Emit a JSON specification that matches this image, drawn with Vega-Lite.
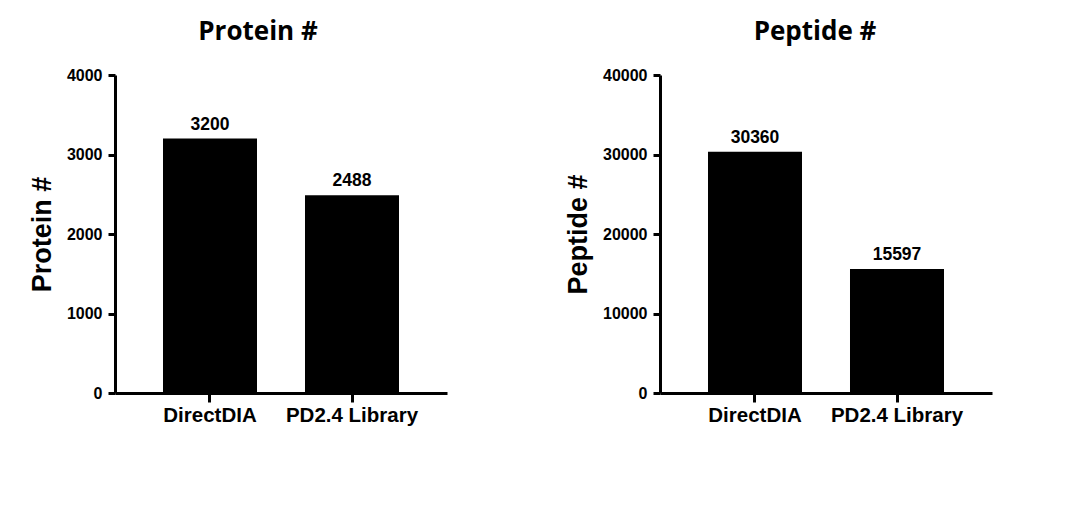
{
  "$schema": "https://vega.github.io/schema/vega-lite/v6.json",
  "padding": {"left": 28, "top": 19, "right": 5, "bottom": 5},
  "background": "white",
  "spacing": 117,
  "config": {
    "view": {"stroke": null},
    "axis": {
      "grid": false,
      "domainColor": "black",
      "domainWidth": 3,
      "tickColor": "black",
      "tickWidth": 3,
      "tickSize": 7,
      "labelFont": "Liberation Sans",
      "labelFontWeight": "bold",
      "labelColor": "black",
      "titleFont": "Liberation Sans",
      "titleFontWeight": "bold",
      "titleColor": "black"
    },
    "axisY": {"labelFontSize": 16, "labelPadding": 6, "titleFontSize": 27, "titlePadding": 10, "format": "d"},
    "axisX": {"labelFontSize": 20.5, "labelPadding": 3, "tickSize": 9, "labelAngle": 0, "title": null},
    "title": {"font": "Open Sans", "fontSize": 26, "fontWeight": "bold", "color": "black", "anchor": "middle", "offset": 22}
  },
  "hconcat": [
    {
      "title": {"text": "Protein #", "dx": -23},
      "width": 332,
      "height": 318,
      "data": {"values": [
        {"method": "DirectDIA", "count": 3200},
        {"method": "PD2.4 Library", "count": 2488}
      ]},
      "encoding": {
        "x": {"field": "method", "type": "nominal", "sort": null, "scale": {"paddingInner": 0.338, "paddingOuter": 0.338}, "axis": {"title": null}},
        "y": {"field": "count", "type": "quantitative", "scale": {"domain": [0, 4000]}, "axis": {"title": "Protein #", "values": [0, 1000, 2000, 3000, 4000]}}
      },
      "layer": [
        {"mark": {"type": "bar", "color": "black"}},
        {"mark": {"type": "text", "baseline": "bottom", "dy": -5, "font": "Liberation Sans", "fontWeight": "bold", "fontSize": 17.5, "color": "black"},
         "encoding": {"text": {"field": "count", "type": "quantitative", "format": "d"}}}
      ]
    },
    {
      "title": {"text": "Peptide #", "dx": -11},
      "width": 332,
      "height": 318,
      "data": {"values": [
        {"method": "DirectDIA", "count": 30360},
        {"method": "PD2.4 Library", "count": 15597}
      ]},
      "encoding": {
        "x": {"field": "method", "type": "nominal", "sort": null, "scale": {"paddingInner": 0.338, "paddingOuter": 0.338}, "axis": {"title": null}},
        "y": {"field": "count", "type": "quantitative", "scale": {"domain": [0, 40000]}, "axis": {"title": "Peptide #", "values": [0, 10000, 20000, 30000, 40000]}}
      },
      "layer": [
        {"mark": {"type": "bar", "color": "black"}},
        {"mark": {"type": "text", "baseline": "bottom", "dy": -5, "font": "Liberation Sans", "fontWeight": "bold", "fontSize": 17.5, "color": "black"},
         "encoding": {"text": {"field": "count", "type": "quantitative", "format": "d"}}}
      ]
    }
  ]
}
